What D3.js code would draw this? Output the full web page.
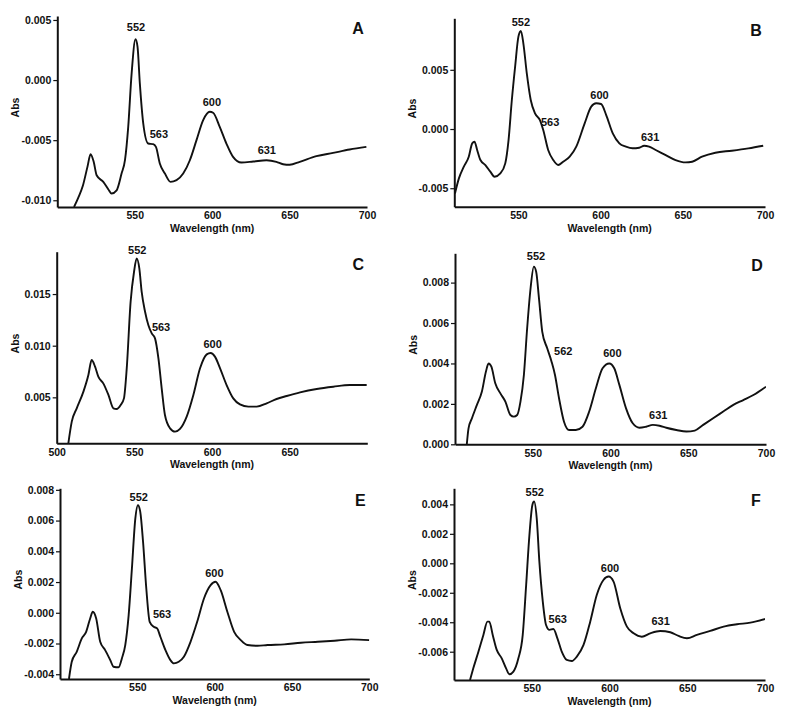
<!DOCTYPE html>
<html><head><meta charset="utf-8">
<script src="https://cdn.jsdelivr.net/npm/d3@7"></script>
<style>
body{margin:0;background:#fff}
text{font-family:"Liberation Sans",Arial,sans-serif;font-weight:bold;fill:#111}
</style>
</head><body><svg id="c" width="800" height="723"></svg>
<script>
// ---------- Panel A ----------
const wlA  = [510.8,513.5,516.5,519.5,521.5,523.5,525.4,529.7,533,535,538.3,541.5,543.7,545.8,548,550.5,551.8,553.3,555.5,558.7,561.9,563.7,566.2,569.5,573.1,577,581.3,585.6,589.9,594.2,598.5,600.6,604.9,609.2,613.5,618.9,626.5,635.1,641.5,645.8,650.1,656.6,667.3,678.1,688.8,699.6];
const absA = [-0.01056,-0.0098,-0.0088,-0.0072,-0.00617,-0.0068,-0.00792,-0.00847,-0.0091,-0.00944,-0.00917,-0.00778,-0.00667,-0.00389,0.00056,0.00339,0.00278,-0.00028,-0.00361,-0.00528,-0.00533,-0.00556,-0.00694,-0.00778,-0.00847,-0.00833,-0.00778,-0.00667,-0.005,-0.00333,-0.00264,-0.00272,-0.00389,-0.00528,-0.00639,-0.00686,-0.00678,-0.00667,-0.0068,-0.007,-0.00705,-0.0068,-0.00633,-0.00606,-0.00578,-0.00556];
const yTicksA = [-0.010,-0.005,0.000,0.005];
const labTextA = ["552","563","600","631"];
const labXA = [550.8,565.6,599.8,635.3];
const labYA = [0.00408,-0.00481,-0.00217,-0.00617];

// ---------- Panel B ----------
const wlB  = [511.4,513.8,516.8,519.8,521.9,523.3,524.9,526.9,529.9,532.9,535.5,539,542,544,546,548,550,551.5,553,555.1,557.5,560.1,563.1,565.1,568.1,571.2,574.2,577.2,581.2,585.2,590.3,594.3,597.3,600.3,603.4,607.4,611.4,615.4,619.4,623.5,626.5,629.5,633.5,639.6,645.6,651.6,655.7,661.7,669.8,679.8,689.9,698.9];
const absB = [-0.00544,-0.00417,-0.00318,-0.00234,-0.00121,-0.00107,-0.00177,-0.00262,-0.00304,-0.0036,-0.00403,-0.00375,-0.0029,-0.00093,0.00245,0.00527,0.0078,0.00828,0.00724,0.0047,0.00245,0.00132,0.00076,-0.00008,-0.00177,-0.00262,-0.00304,-0.00276,-0.00234,-0.00149,0.00048,0.00189,0.00217,0.00211,0.00118,-0.00037,-0.00121,-0.00149,-0.00163,-0.00158,-0.00141,-0.00149,-0.00177,-0.0022,-0.00262,-0.00282,-0.00276,-0.00234,-0.002,-0.00183,-0.00163,-0.00141];
const yTicksB = [-0.005,0.000,0.005];
const labTextB = ["552","563","600","631"];
const labXB = [551.5,569.3,599.3,630.1];
const labYB = [0.00874,0.00028,0.0025,-0.001];

// ---------- Panel C ----------
const wlC  = [507.5,509.7,512.9,517.2,520.4,522.5,524.7,526.8,530,533.3,536.5,538.6,541.2,543.3,545.1,547.6,549.8,551.5,553.2,554.7,556.9,559,561.2,563.3,565.5,567.6,569.7,573,576.2,579.4,583.7,588,592.3,596.6,599.1,601.9,605.2,609.4,613.7,618,623.4,628.8,635.2,641.6,648.1,656.7,667.4,678.1,688.8,699.6];
const absC = [0.00055,0.00265,0.00394,0.00555,0.00716,0.00861,0.00797,0.007,0.00635,0.00523,0.00394,0.00387,0.00426,0.0049,0.00781,0.01426,0.01716,0.01845,0.01748,0.01523,0.01329,0.012,0.01119,0.01071,0.00877,0.00587,0.00329,0.002,0.00168,0.00194,0.00313,0.00523,0.00781,0.00916,0.00929,0.00894,0.00781,0.00619,0.0049,0.00432,0.0041,0.0041,0.00442,0.00484,0.00513,0.00548,0.00581,0.00603,0.00619,0.00619];
const yTicksC = [0.005,0.010,0.015];
const xTicksC = [500,550,600,650];
const labTextC = ["552","563","600"];
const labXC = [551.9,567.2,600.4];
const labYC = [0.01883,0.01141,0.00974];

// ---------- Panel D ----------
const wlD  = [507.6,508.7,510.9,514.1,517.3,519.9,521.6,523.4,525.9,529.2,532.4,535.6,537.8,540,542.1,544.3,546.4,548.6,550.7,552.2,554,556.1,559.3,562.1,564.3,566.9,570.1,573.4,577.7,582,586.3,590.6,594.9,599.2,602.4,605.7,610,614.3,618.6,622.9,627.2,631.5,635.9,642.3,648.8,654.2,659.6,666,672.5,679,685.4,691.9,700];
const absD = [0,0.00079,0.00129,0.00195,0.00261,0.0036,0.004,0.00384,0.00302,0.00252,0.00211,0.00145,0.00137,0.00145,0.00211,0.00343,0.00574,0.00772,0.00879,0.00854,0.00722,0.00558,0.00475,0.00409,0.00343,0.00228,0.00112,0.00071,0.00071,0.00087,0.00162,0.00277,0.00376,0.004,0.00376,0.00294,0.00178,0.00104,0.00082,0.00087,0.00096,0.00092,0.00082,0.00071,0.00063,0.00068,0.00096,0.00129,0.00162,0.00195,0.00219,0.00244,0.00285];
const yTicksD = [0.000,0.002,0.004,0.006,0.008];
const labTextD = ["552","562","600","631"];
const labXD = [552.1,569.6,601.2,630.7];
const labYD = [0.00912,0.00442,0.00434,0.00124];

// ---------- Panel E ----------
const wlE  = [505.8,507.6,510.8,514.1,516.9,519.5,521.2,523.4,526,529.2,532.5,534.6,537.9,540,542.2,544.4,546.5,548.7,550.4,551.9,553.7,555.8,558,560.6,562.8,564.9,568.2,571.4,573.6,576.8,580.1,584.4,588.7,593.1,597.4,600.6,603.9,608.2,612.6,616.9,621.2,627.7,634.2,645,655.8,666.7,677.5,688.3,700];
const absE = [-0.00431,-0.00319,-0.00254,-0.00167,-0.00124,-0.00037,0.00007,-0.00037,-0.00189,-0.00243,-0.00308,-0.00351,-0.00355,-0.00297,-0.0021,-0.00015,0.00288,0.00613,0.007,0.00657,0.00462,0.00158,-0.00059,-0.00091,-0.00102,-0.00156,-0.00243,-0.00308,-0.00329,-0.00319,-0.00286,-0.00189,-0.00059,0.00093,0.0018,0.00202,0.00147,0.00007,-0.00124,-0.00178,-0.0021,-0.00215,-0.0021,-0.00206,-0.00195,-0.00189,-0.00182,-0.00173,-0.00178];
const yTicksE = [-0.004,-0.002,0.000,0.002,0.004,0.006,0.008];
const labTextE = ["552","563","600"];
const labXE = [550.9,566,599.8];
const labYE = [0.00725,-0.00032,0.00234];

// ---------- Panel F ----------
const wlF  = [510.3,512.4,515.7,518.9,521.5,522.7,524.9,527.5,530.7,533.5,535.6,538.2,541.4,544.2,546.4,548.5,550.4,551.5,553.2,554.9,557.1,559.2,561.4,563.9,566.5,569.3,572.5,575.8,579,583.3,587.6,591.8,596.1,599.4,602.6,606.9,611.2,615.5,620.8,626.2,632.6,639.1,644.4,649.8,656.2,664.8,673.4,682,690.6,700];
const absF = [-0.00792,-0.00713,-0.006,-0.00486,-0.00396,-0.00396,-0.00486,-0.00588,-0.00645,-0.00713,-0.00753,-0.00735,-0.00645,-0.00486,-0.00147,0.00192,0.00396,0.00419,0.00305,0.00011,-0.0026,-0.00419,-0.00452,-0.00446,-0.00509,-0.006,-0.00656,-0.00663,-0.00633,-0.00554,-0.00396,-0.00215,-0.00113,-0.0009,-0.00124,-0.00305,-0.0043,-0.00475,-0.00498,-0.00475,-0.00459,-0.00468,-0.00493,-0.00509,-0.00486,-0.00459,-0.0043,-0.00414,-0.00403,-0.00378];
const yTicksF = [-0.006,-0.004,-0.002,0.000,0.002,0.004];
const labTextF = ["552","563","600","631"];
const labXF = [551.9,566.7,600.3,632.9];
const labYF = [0.00458,-0.00407,-0.00057,-0.00418];

const xTicks = [550,600,650,700];

const panels = [
  {id:"A", wl:wlA, abs:absA, xDom:[500,700], yDom:[-0.01056,0.00533], xt:xTicks,  yt:yTicksA, lt:labTextA, lx:labXA, ly:labYA, box:[57.3,367,16,207]},
  {id:"B", wl:wlB, abs:absB, xDom:[511,700], yDom:[-0.00656,0.00935], xt:xTicks,  yt:yTicksB, lt:labTextB, lx:labXB, ly:labYB, box:[454.3,765,18.3,206.7]},
  {id:"C", wl:wlC, abs:absC, xDom:[500,700], yDom:[0.00055,0.0191],   xt:xTicksC, yt:yTicksC, lt:labTextC, lx:labXC, ly:labYC, box:[56.7,367.3,251.7,443.3]},
  {id:"D", wl:wlD, abs:absD, xDom:[500,700], yDom:[0,0.00945],        xt:xTicks,  yt:yTicksD, lt:labTextD, lx:labXD, ly:labYD, box:[455,766,253.3,444.3]},
  {id:"E", wl:wlE, abs:absE, xDom:[500,700], yDom:[-0.00431,0.0081],  xt:xTicks,  yt:yTicksE, lt:labTextE, lx:labXE, ly:labYE, box:[60,369.3,488.3,679]},
  {id:"F", wl:wlF, abs:absF, xDom:[500,700], yDom:[-0.00792,0.00509], xt:xTicks,  yt:yTicksF, lt:labTextF, lx:labXF, ly:labYF, box:[454,765,488.3,680]}
];

const fmt = v => d3.format(".3f")(v).replace("\u2212","-");
const svg = d3.select("#c");
const defs = svg.append("defs");

panels.forEach(p => {
  const [x0,x1,y0,y1] = p.box;
  const x = d3.scaleLinear().domain(p.xDom).range([x0,x1]);
  const y = d3.scaleLinear().domain(p.yDom).range([y1,y0]);
  const g = svg.append("g");
  const cid = "clip" + p.id;
  defs.append("clipPath").attr("id",cid).append("rect")
    .attr("x",x0).attr("y",y0).attr("width",x1-x0).attr("height",y1-y0);

  const data = p.wl.map((w,i)=>[w,p.abs[i]]);
  g.append("path").datum(data)
    .attr("clip-path",`url(#${cid})`)
    .attr("fill","none").attr("stroke","#111").attr("stroke-width",1.9)
    .attr("stroke-linejoin","round")
    .attr("d", d3.line().x(d=>x(d[0])).y(d=>y(d[1])).curve(d3.curveMonotoneX));

  // y axis
  const ya = g.append("g").attr("transform",`translate(${x0},0)`)
    .call(d3.axisLeft(y).tickValues(p.yt).tickFormat(fmt).tickSize(4).tickSizeOuter(0).tickPadding(2));
  ya.select(".domain").attr("stroke","#111").attr("stroke-width",2);
  ya.selectAll(".tick line").attr("stroke","#111").attr("stroke-width",1.2);
  ya.selectAll(".tick text").attr("font-size",10.5).attr("font-family",null).style("fill","#111");

  // x axis
  const xa = g.append("g").attr("transform",`translate(0,${y1})`)
    .call(d3.axisBottom(x).tickValues(p.xt).tickFormat(d3.format("d")).tickSize(0).tickSizeOuter(0).tickPadding(5));
  xa.select(".domain").attr("stroke","#111").attr("stroke-width",2);
  xa.selectAll(".tick text").attr("font-size",10.5).attr("font-family",null).style("fill","#111");

  // axis titles
  g.append("text").attr("x",(x0+x1)/2).attr("y",y1+25).attr("text-anchor","middle")
    .attr("font-size",10.5).text("Wavelength (nm)");
  g.append("text").attr("transform",`translate(${x0-38},${(y0+y1)/2 - 4}) rotate(-90)`)
    .attr("text-anchor","middle").attr("font-size",10.5).text("Abs");

  // peak labels
  p.lt.forEach((t,i) => {
    g.append("text").attr("x",x(p.lx[i])).attr("y",y(p.ly[i]))
      .attr("text-anchor","middle").attr("font-size",11).text(t);
  });

  // panel letter
  g.append("text").attr("x",x1-9).attr("y",y0+18).attr("text-anchor","middle")
    .attr("font-size",16).text(p.id);
});
</script>
</body></html>
